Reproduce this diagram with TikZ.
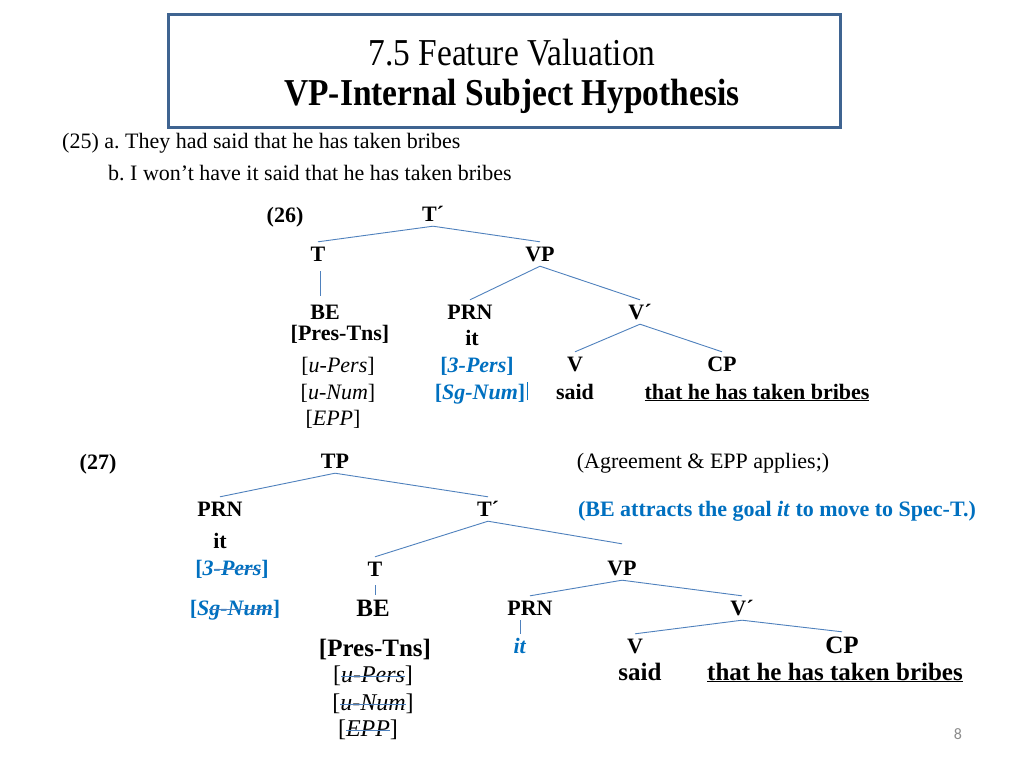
\documentclass[tikz,border=0pt]{standalone}
\usepackage{fontspec}
\setmainfont{Liberation Serif}
\newfontfamily\titlefont[FakeStretch=0.88]{Liberation Serif}
\newfontfamily\pagefont{Carlito}
\definecolor{lineblue}{HTML}{4F81BD}
\definecolor{txtblue}{HTML}{0070C0}
\definecolor{boxblue}{HTML}{3F6491}
\definecolor{pagegray}{HTML}{8C8C8C}
\frenchspacing
\newcommand\fsz[1]{\fontsize{#1}{#1}\selectfont}
\newlength\strklen
\newcommand\strk[1]{\settowidth{\strklen}{#1}#1\llap{\textcolor{lineblue}{\rule[0.5ex]{\strklen}{0.8pt}}}}
\tikzset{
  lbl/.style={inner sep=0pt, anchor=base, font=\fsz{22}},
  tn/.style={inner sep=0pt, anchor=base, font=\fsz{22}\bfseries, text height=19pt, text depth=5pt},
  tnl/.style={tn, font=\fsz{25}\bfseries, text height=21pt},
  fn/.style={tn, font=\fsz{22}},
  fnl/.style={tn, font=\fsz{24}},
  bn/.style={tn, text=txtblue},
  edge/.style={draw=lineblue, line width=0.9pt},
}
\begin{document}
\begin{tikzpicture}[x=1pt,y=-1pt]
\useasboundingbox[fill=white] (0,0) rectangle (1024,768);
% title
\node[draw=boxblue, line width=3pt, minimum width=672pt, minimum height=112pt, inner sep=0pt] (tbox) at (504,71) {};
\node[inner sep=0pt, anchor=base, font=\titlefont\fsz{38}] (t1) at (512,66) {7.5 Feature Valuation};
\node[inner sep=0pt, anchor=base, font=\titlefont\fsz{38}\bfseries] (t2) at (512,105) {VP-Internal Subject Hypothesis};
% (25)
\node[lbl, anchor=base west] (ex25a) at (62,148) {(25) a. They had said that he has taken bribes};
\node[lbl, anchor=base west] (ex25b) at (108,180) {b. I won’t have it said that he has taken bribes};
% (26)
\node[tn] (n26) at (285,222) {(26)};
\node[tn] (tb26) at (433,221) {T´};
\node[tn] (t26) at (318,261) {T};
\node[tn] (vp26) at (540,261) {VP};
\node[tn] (be26) at (325,319) {BE};
\node[tn] (pt26) at (340,340) {[Pres-Tns]};
\node[fn] (up26) at (338,372) {[\textit{u-Pers}]};
\node[fn] (un26) at (338,399) {[\textit{u-Num}]};
\node[fn] (epp26) at (333,425) {[\textit{EPP}]};
\node[tn] (prn26) at (470,319) {PRN};
\node[tn] (it26) at (472,345) {it};
\node[bn] (pe26) at (477,372) {[\textit{3-Pers}]};
\node[bn] (sg26) at (480,399) {[\textit{Sg-Num}]};
\node[tn] (vb26) at (640,319) {V´};
\node[tn] (v26) at (575,371) {V};
\node[tn] (cp26) at (722,371) {CP};
\node[tn] (said26) at (575,399) {said};
\node[tn] (cl26) at (757,399) {\underline{that he has taken bribes}};
\draw[edge] (tb26.south) -- (t26.north);
\draw[edge] (tb26.south) -- (vp26.north);
\draw[edge, shorten <=5pt, shorten >=4pt] (t26.south -| 320,0) -- (be26.north -| 320,0);
\draw[edge] (vp26.south) -- (prn26.north);
\draw[edge] (vp26.south) -- (vb26.north);
\draw[edge] (vb26.south) -- (v26.north);
\draw[edge] (vb26.south) -- (cp26.north);
\draw[draw=txtblue, line width=0.8pt] ([xshift=2pt,yshift=-1pt]sg26.base east) -- ++(0,-18);
% (27)
\node[tn] (n27) at (98,469) {(27)};
\node[tn] (tp27) at (335,468) {TP};
\node[tn] (prna27) at (220,516) {PRN};
\node[tn] (ita27) at (220,548) {it};
\node[bn] (pe27) at (232,575) {[\textit{3\strk{-Pers}}]};
\node[bn] (sg27) at (235,615) {[\textit{S\strk{g-Num}}]};
\node[tn] (tb27) at (488,516) {T´};
\node[tn] (t27) at (375,576) {T};
\node[tnl] (be27) at (373,616) {BE};
\node[tnl] (pt27) at (375,656) {[Pres-Tns]};
\node[fnl] (up27) at (373,682) {[\textit{\strk{u-Pers}}]};
\node[fnl] (un27) at (373,710) {[\textit{\strk{u-Num}}]};
\node[fnl] (epp27) at (368,736) {[\textit{\strk{EPP}}]};
\node[tn] (vp27) at (622,575) {VP};
\node[tn] (prnb27) at (530,615) {PRN};
\node[bn] (itb27) at (520,653) {\textit{it}};
\node[tn] (vb27) at (742,615) {V´};
\node[tn] (v27) at (635,653) {V};
\node[tnl] (cp27) at (842,653) {CP};
\node[tnl] (said27) at (640,680) {said};
\node[tnl] (cl27) at (835,680) {\underline{that he has taken bribes}};
\node[lbl] (agr) at (703,468) {(Agreement \& EPP applies;)};
\node[lbl, font=\fsz{22}\bfseries, text=txtblue] (attr) at (777,516) {(BE attracts the goal \textit{it} to move to Spec-T.)};
\draw[edge] (tp27.south) -- (prna27.north);
\draw[edge] (tp27.south) -- (tb27.north);
\draw[edge] (tb27.south) -- (t27.north);
\draw[edge] (tb27.south) -- ([yshift=12pt]vp27.north);
\draw[edge, shorten <=4pt] (t27.south) -- (t27.south |- be27.north);
\draw[edge] (vp27.south) -- (prnb27.north);
\draw[edge] (vp27.south) -- (vb27.north);
\draw[edge] (itb27.north |- prnb27.south) -- (itb27.north);
\draw[edge] (vb27.south) -- (v27.north);
\draw[edge] (vb27.south) -- (cp27.north);
% page number
\node[inner sep=0pt, anchor=base, font=\pagefont\fsz{16}, text=pagegray] (pg) at (958,739) {8};
\end{tikzpicture}
\end{document}
